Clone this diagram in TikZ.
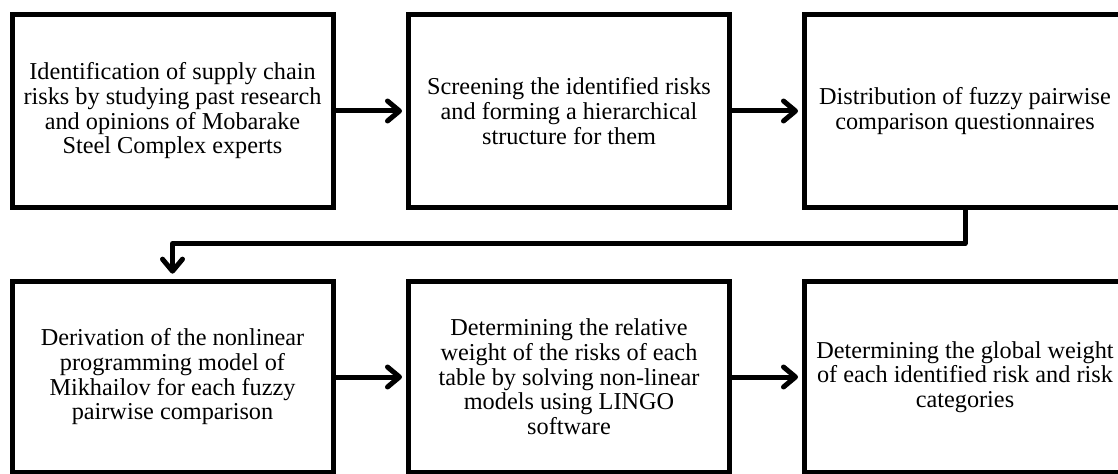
\documentclass[tikz,border=0pt]{standalone}
\usepackage{fontspec}
\setmainfont{Liberation Serif}
\usetikzlibrary{arrows.meta}
\tikzset{
  stepbox/.style={draw=black, line width=3.75pt, rectangle, align=center,
    minimum width=240.75pt, inner sep=0pt,
    font=\fontsize{18.2pt}{18.5pt}\selectfont},
  toprow/.style={minimum height=144.75pt},
  botrow/.style={minimum height=143.25pt},
  flow/.style={line width=3.75pt, -{Straight Barb[length=9pt,width=15pt,round]}}
}
\begin{document}
\begin{tikzpicture}[x=0.75pt,y=-0.75pt]
\path[use as bounding box] (0,0) rectangle (1118,474);
\clip (0,0) rectangle (1118,474);
\node[stepbox,toprow] (b1) at (172.5,111) {Identification of supply chain\\risks by studying past research\\and opinions of Mobarake\\Steel Complex experts};
\node[stepbox,toprow] (b2) at (569,111) {Screening the identified risks\\and forming a hierarchical\\structure for them};
\node[stepbox,toprow] (b3) at (965,111) {Distribution of fuzzy pairwise\\comparison questionnaires};
\node[stepbox,botrow] (b4) at (172.5,377) {Derivation of the nonlinear\\programming model of\\Mikhailov for each fuzzy\\pairwise comparison};
\node[stepbox,botrow] (b5) at (569,377) {Determining the relative\\weight of the risks of each\\table by solving non-linear\\models using LINGO\\software};
\node[stepbox,botrow] (b6) at (965,377) {Determining the global weight\\of each identified risk and risk\\categories};
\coordinate (turn) at (0,243.5);
\draw[flow, shorten >=3pt] (b1) -- (b2);
\draw[flow, shorten >=3pt] (b2) -- (b3);
\draw[flow, shorten >=3pt] (b4) -- (b5);
\draw[flow, shorten >=3pt] (b5) -- (b6);
\draw[flow, shorten >=4pt, line join=round] (b3.south) |- (b4.north |- turn) -- (b4.north);
\end{tikzpicture}
\end{document}
